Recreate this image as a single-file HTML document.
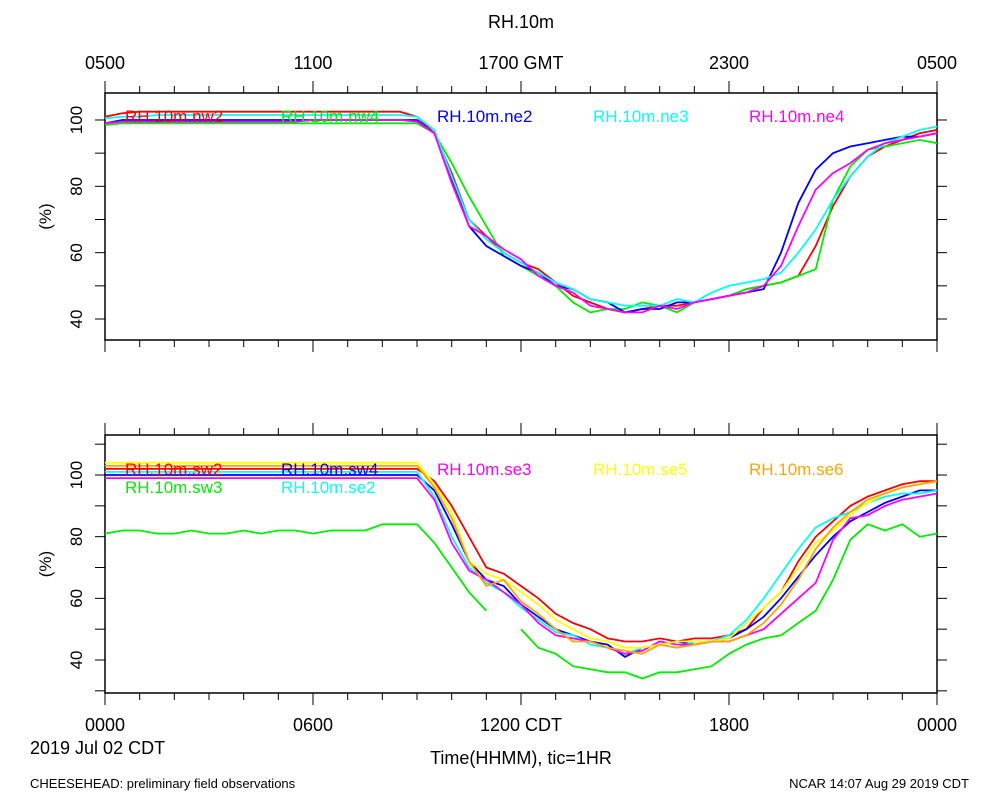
<!DOCTYPE html>
<html><head><meta charset="utf-8"><style>
body{margin:0;background:#fff;}
svg{font-family:"Liberation Sans",sans-serif;}
</style></head><body>
<svg id="chart" width="1000" height="800" viewBox="0 0 1000 800" xmlns="http://www.w3.org/2000/svg">
<rect width="1000" height="800" fill="#fff"/>
<text x="521" y="28" font-size="18" text-anchor="middle">RH.10m</text>
<g id="topTicks" font-size="18" text-anchor="middle"></g>
<g id="p1"></g>
<g id="p2"></g>
<text x="30" y="754" font-size="18">2019 Jul 02 CDT</text>
<text x="521" y="764" font-size="18" text-anchor="middle">Time(HHMM), tic=1HR</text>
<text x="30" y="788" font-size="13">CHEESEHEAD: preliminary field observations</text>
<text x="969" y="788" font-size="13" text-anchor="end">NCAR 14:07 Aug 29 2019 CDT</text>
</svg>
<script>
const hours=[0,0.5,1,1.5,2,2.5,3,3.5,4,4.5,5,5.5,6,6.5,7,7.5,8,8.5,9,9.5,10,10.5,11,11.5,12,12.5,13,13.5,14,14.5,15,15.5,16,16.5,17,17.5,18,18.5,19,19.5,20,20.5,21,21.5,22,22.5,23,23.5,24];
const topTickLabels=["0500","1100","1700 GMT","2300","0500"];
const bottomTickLabels=["0000","0600","1200 CDT","1800","0000"];
const yTickValues=[40,60,80,100];
const nw2=[101,102,102.5,102.5,102.5,102.5,102.5,102.5,102.5,102.5,102.5,102.5,102.5,102.5,102.5,102.5,102.5,102.5,101,96,84,70,65,60,57,55,51,47,45,43,42,43,44,44,45,46,47,49,50,51,53,62,74,83,89,92,94,96,97];
const nw4=[98.5,99,99,99,99,99,99,99,99,99,99,99,99,99,99,99,99,99,99,96,87,77,68,59,56,53,50,45,42,43,43,45,44,42,45,46,47,49,50,51,53,55,76,86,91,92,93,94,93];
const ne2=[99,100,100,100,100,100,100,100,100,100,100,100,100,100,100,100,100,100,100,96,82,68,62,59,56,54,50,49,46,45,42,43,43,45,45,46,47,48,49,60,75,85,90,92,93,94,95,95,96];
const ne3=[100.5,101,101,101.5,101.5,101.5,101.5,101.5,101.5,101.5,101.5,101.5,101.5,101.5,101.5,101.5,101.5,101.5,101,97,83,70,64,60,57,54,51,49,46,45,44,44,44,46,45,48,50,51,52,54,60,67,76,83,89,93,95,97,98];
const ne4=[99,99.5,99.5,99.5,99.5,99.5,99.5,99.5,99.5,99.5,99.5,99.5,100,100,100,100,100,100,99.5,96,81,68,65,61,58,53,50,48,44,43,42,42,44,43,45,46,47,48,50,56,68,79,84,87,91,93,94,95,96];
const sw2=[102,102,102,102,102,102,102,102,102,102,102,102,102,102,102,102,102,102,102,98,90,80,70,68,64,60,55,52,50,47,46,46,47,46,47,47,48,50,57,62,72,80,85,90,93,95,97,98,98];
const sw3=[81,82,82,81,81,82,81,81,82,81,82,82,81,82,82,82,84,84,84,78,70,62,56,null,50,44,42,38,37,36,36,34,36,36,37,38,42,45,47,48,52,56,66,79,84,82,84,80,81];
const sw4=[100,100,100,100,100,100,100,100,100,100,100,100,100,100,100,100,100,100,100,95,84,72,66,64,58,54,50,48,46,45,41,44,45,46,45,46,47,50,54,60,67,74,80,85,88,91,93,95,95];
const se2=[101,101,101,101,101,101,101,101,101,101,101,101,101,101,101,101,101,101,101,93,80,70,65,62,57,53,49,48,45,44,42,44,45,44,46,46,48,53,60,68,76,83,86,88,91,93,94,94,95];
const se3=[99,99,99,99,99,99,99,99,99,99,99,99,99,99,99,99,99,99,99,92,78,69,66,62,58,52,48,47,46,44,42,43,46,45,45,46,46,48,50,55,60,65,79,86,87,90,92,93,94];
const se5=[104,104,104,104,104,104,104,104,104,104,104,104,104,104,104,104,104,104,104,97,88,72,68,66,62,58,53,50,47,46,44,44,45,46,46,46,47,52,57,62,70,78,82,87,91,94,96,97,98];
const se6=[103,103,103,103,103,103,103,103,103,103,103,103,103,103,103,103,103,103,103,96,86,72,64,66,59,55,50,46,46,44,43,42,45,44,45,46,46,48,52,58,66,76,83,88,92,94,96,97,98];

const NS="http://www.w3.org/2000/svg";
function mk(tag,attrs,parent,text){const e=document.createElementNS(NS,tag);for(const k in attrs)e.setAttribute(k,attrs[k]);if(text!==undefined)e.textContent=text;parent.appendChild(e);return e;}
const X0=105,X1=937;
function xs(h){return X0+(X1-X0)*h/24;}

function panel(g,top,bot,ymap,series,legend){
  const fr=mk('rect',{x:X0,y:top,width:X1-X0,height:bot-top,fill:'none',stroke:'#000','stroke-width':1.5},g);
  
  
  for(let h=0;h<=24;h++){
    const L=h%6===0?12:7;const x=xs(h);
    mk('line',{x1:x,y1:top,x2:x,y2:top-L,stroke:'#000'},g);
    mk('line',{x1:x,y1:bot,x2:x,y2:bot+L,stroke:'#000'},g);
  }
  for(let v=30;v<=110;v+=10){
    const y=ymap(v);if(y<top||y>bot)continue;
    mk('line',{x1:X0,y1:y,x2:X0-10,y2:y,stroke:'#000'},g);
    mk('line',{x1:X1,y1:y,x2:X1+10,y2:y,stroke:'#000'},g);
  }
  yTickValues.forEach(v=>{
    const y=ymap(v);
    const t=mk('text',{x:0,y:0,'font-size':17,'text-anchor':'middle',transform:`translate(82 ${y}) rotate(-90)`},g,String(v));
    
    
  });
  const yl=mk('text',{x:51,y:(top+bot)/2,'font-size':17,'text-anchor':'middle',transform:`rotate(-90 51 ${(top+bot)/2})`},g,'(%)');
  
  
  mk('clipPath',{id:'c'+top},g);
  const cp=g.lastChild;mk('rect',{x:X0,y:top,width:X1-X0,height:bot-top},cp);
  series.forEach(s=>{
    let d='';let pen=false;
    s.data.forEach((v,i)=>{
      if(v===null){pen=false;return;}
      d+=(pen?'L':'M')+xs(hours[i]).toFixed(1)+' '+ymap(v).toFixed(1)+' ';pen=true;
    });
    const p=mk('path',{d:d,fill:'none',stroke:s.color,'stroke-width':1.8,'clip-path':`url(#c${top})`},g);
    
    
  });
  legend.forEach(l=>{
    const t=mk('text',{x:l.x,y:l.y,'font-size':17,fill:l.color},g,l.text);
    
    
  });
}
const y1=v=>319-(v-40)*3.317;
const y2=v=>660-(v-40)*3.083;
panel(document.getElementById('p1'),93,340,y1,[
 {name:'nw2',data:nw2,color:'#ff0000'},{name:'nw4',data:nw4,color:'#00ee00'},
 {name:'ne2',data:ne2,color:'#0000ff'},{name:'ne3',data:ne3,color:'#00ffff'},
 {name:'ne4',data:ne4,color:'#ff00ff'}],
 [{x:125,y:122,text:'RH.10m.nw2',color:'#ff0000'},{x:281,y:122,text:'RH.10m.nw4',color:'#00ee00'},
  {x:437,y:122,text:'RH.10m.ne2',color:'#0000ff'},{x:593,y:122,text:'RH.10m.ne3',color:'#00ffff'},
  {x:749,y:122,text:'RH.10m.ne4',color:'#ff00ff'}]);
panel(document.getElementById('p2'),435,693,y2,[
 {name:'sw2',data:sw2,color:'#ff0000'},{name:'sw3',data:sw3,color:'#00ee00'},
 {name:'sw4',data:sw4,color:'#0000ff'},{name:'se2',data:se2,color:'#00ffff'},
 {name:'se3',data:se3,color:'#ff00ff'},{name:'se5',data:se5,color:'#ffff00'},
 {name:'se6',data:se6,color:'#ffa500'}],
 [{x:125,y:475,text:'RH.10m.sw2',color:'#ff0000'},{x:281,y:475,text:'RH.10m.sw4',color:'#0000ff'},
  {x:437,y:475,text:'RH.10m.se3',color:'#ff00ff'},{x:593,y:475,text:'RH.10m.se5',color:'#ffff00'},
  {x:749,y:475,text:'RH.10m.se6',color:'#ffa500'},{x:125,y:493,text:'RH.10m.sw3',color:'#00ee00'},
  {x:281,y:493,text:'RH.10m.se2',color:'#00ffff'}]);
const tt=document.getElementById('topTicks');
topTickLabels.forEach((s,i)=>{
  const t=mk('text',{x:xs(i*6),y:69},tt,s);
  
  
});
bottomTickLabels.forEach((s,i)=>{
  const t=mk('text',{x:xs(i*6),y:731,'font-size':18,'text-anchor':'middle'},document.getElementById('chart'),s);
  
  
});
</script>
</body></html>
